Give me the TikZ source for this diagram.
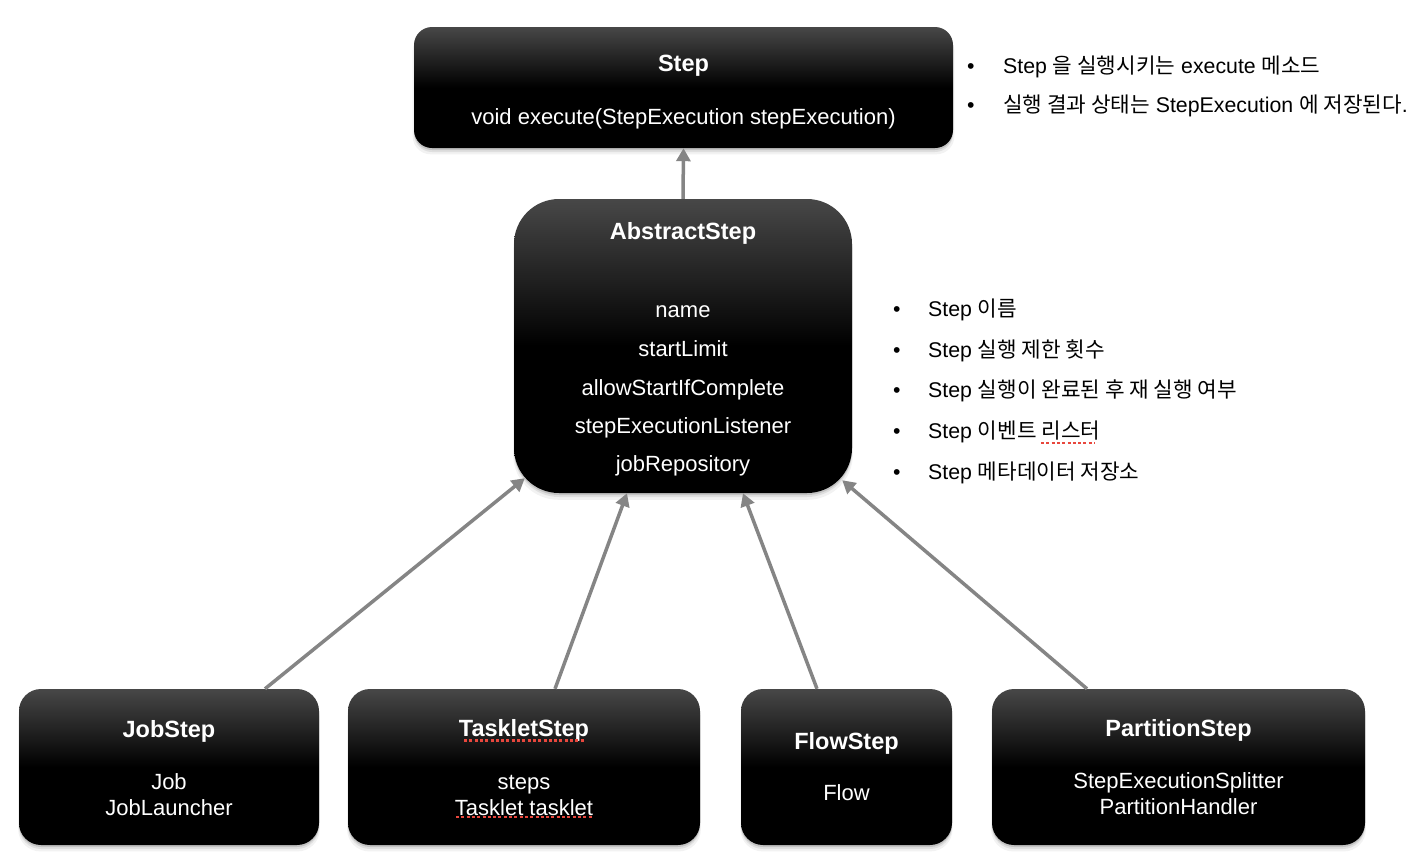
\documentclass[tikz,border=0pt]{standalone}
\usepackage{fontspec}
\setmainfont{Liberation Sans}
\newfontfamily\kr[Scale=1.0]{Noto Sans CJK KR}
\usetikzlibrary{shadows,arrows.meta,calc}

\definecolor{arrowgray}{HTML}{858585}
\definecolor{spellred}{HTML}{E8473D}

% dark class box: grey at the top fading to black
\pgfdeclareverticalshading{boxshade}{100bp}{%
  color(0bp)=(black); color(25bp)=(black); color(50bp)=(black);
  color(75bp)=(black!72); color(100bp)=(black!72)}

\tikzset{
  softshadow/.style={
    drop shadow={shadow xshift=0pt, shadow yshift=-2pt, opacity=0.12, fill=black},
    drop shadow={shadow xshift=0pt, shadow yshift=-4pt, opacity=0.08, fill=black},
    drop shadow={shadow xshift=0pt, shadow yshift=-6pt, shadow scale=1.005, opacity=0.05, fill=black}},
  cls/.style={draw=none, shading=boxshade, inner sep=0pt, softshadow},
  title/.style={text=white, font=\bfseries\fontsize{23.5}{27}\selectfont,
    text height=16pt, text depth=5pt, inner sep=0pt},
  member/.style={text=white, font=\fontsize{22}{26}\selectfont,
    text height=16pt, text depth=5pt, inner sep=0pt},
  twoline/.style={text=white, font=\fontsize{22}{26}\selectfont,
    align=center, inner sep=0pt},
  note/.style={anchor=west, font=\fontsize{21.3}{25}\selectfont,
    text height=16pt, text depth=5pt, inner sep=0pt},
  inherit/.style={draw=arrowgray, line width=3.5pt,
    -{Triangle[width=14pt,length=13pt]}},
  squiggle/.style={draw=spellred, line width=2.6pt, dash pattern=on 3pt off 2.3pt}
}

\newcommand{\bul}[1]{\makebox[#1][l]{\hspace*{1pt}•}}

\begin{document}
\begin{tikzpicture}[x=1pt,y=-1pt]
  \useasboundingbox (0,0) rectangle (1410,854);

  % ---- Step interface ----
  \node[cls, minimum width=539pt, minimum height=121pt, rounded corners=18pt]
    (step) at (683.5,87.5) {};
  \node[title]  (stepT) at (683.5,66)  {Step};
  \node[member] (stepM) at (683.5,119) {void execute(StepExecution stepExecution)};

  % ---- AbstractStep ----
  \node[cls, minimum width=338pt, minimum height=294pt, rounded corners=45pt]
    (abs) at (683,346) {};
  \node[title]  (absT) at (683,234) {AbstractStep};
  \node[member] (absA) at (683,312) {name};
  \node[member] (absB) at (683,351) {startLimit};
  \node[member] (absC) at (683,390) {allowStartIfComplete};
  \node[member] (absD) at (683,428) {stepExecutionListener};
  \node[member] (absE) at (683,466) {jobRepository};

  % ---- concrete steps ----
  \node[cls, minimum width=300pt, minimum height=156pt, rounded corners=22pt]
    (job) at (169,767) {};
  \node[title]   (jobT) at (169,732) {JobStep};
  \node[twoline] (jobM) at (169,795) {Job\\JobLauncher};

  \node[cls, minimum width=352pt, minimum height=156pt, rounded corners=22pt]
    (tasklet) at (524,767) {};
  \node[title]   (taskT) at (524,731) {TaskletStep};
  \node[twoline] (taskM) at (524,795) {steps\\Tasklet tasklet};

  \node[cls, minimum width=211pt, minimum height=156pt, rounded corners=22pt]
    (flow) at (846.5,767) {};
  \node[title]  (flowT) at (846.5,744) {FlowStep};
  \node[member] (flowM) at (846.5,795) {Flow};

  \node[cls, minimum width=373pt, minimum height=156pt, rounded corners=22pt]
    (part) at (1178.5,767) {};
  \node[title]   (partT) at (1178.5,731) {PartitionStep};
  \node[twoline] (partM) at (1178.5,794) {StepExecutionSplitter\\PartitionHandler};

  % ---- spell-check marks ----
  \draw[squiggle] (464,740.5) -- (584,740.5);
  \draw[squiggle] (456,817) -- (592,817);
  \draw[squiggle] (1041,443) -- (1095,443);

  % ---- inheritance arrows ----
  \draw[inherit] (abs.north) -- (step.south);
  \draw[inherit] ($(job.north)+(96,0)$)      -- ($(abs.south west)+(11,-15)$);
  \draw[inherit] ($(tasklet.north)+(31,0)$)  -- ($(abs.south)+(-56,0)$);
  \draw[inherit] ($(flow.north)+(-29.5,0)$)  -- ($(abs.south)+(60,0)$);
  \draw[inherit] ($(part.north)+(-91.5,0)$)  -- ($(abs.south east)+(-10,-13)$);

  % ---- notes on Step ----
  \node[note] (n1) at (966,68)  {\bul{37pt}Step {\kr 을 실행시키는} execute {\kr 메소드}};
  \node[note] (n2) at (966,107) {\bul{37pt}{\kr 실행 결과 상태는} StepExecution {\kr 에 저장된다}.};

  % ---- notes on AbstractStep fields ----
  \node[note] (m1) at (892,311) {\bul{36pt}Step {\kr 이름}};
  \node[note] (m2) at (892,352) {\bul{36pt}Step {\kr 실행 제한 횟수}};
  \node[note] (m3) at (892,392) {\bul{36pt}Step {\kr 실행이 완료된 후 재 실행 여부}};
  \node[note] (m4) at (892,433) {\bul{36pt}Step {\kr 이벤트 리스터}};
  \node[note] (m5) at (892,474) {\bul{36pt}Step {\kr 메타데이터 저장소}};
\end{tikzpicture}
\end{document}
